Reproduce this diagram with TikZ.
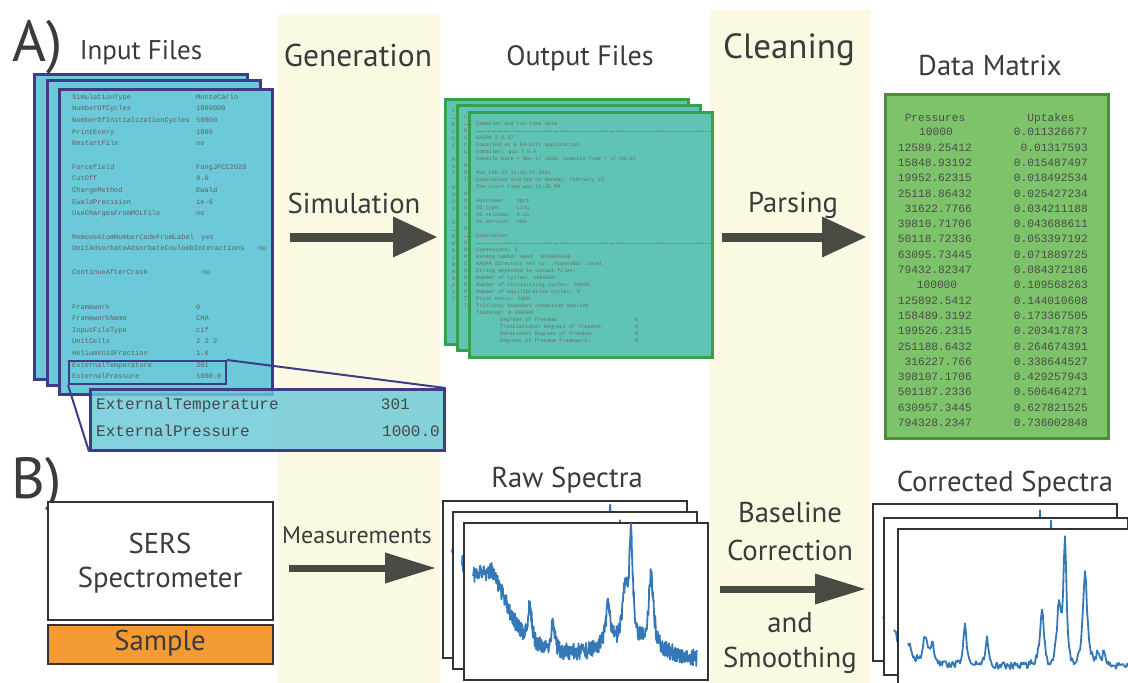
\documentclass[tikz,border=0pt]{standalone}
\usepackage{fontspec}
\setmainfont{PT Sans}
\newfontfamily\mono{Liberation Mono}
\usetikzlibrary{arrows.meta}

\definecolor{stripbg}{HTML}{FCF9E3}
\definecolor{inFill}{HTML}{6BC9D9}
\definecolor{inLine}{HTML}{3F3B86}
\definecolor{outFill}{HTML}{60C4B5}
\definecolor{outLine}{HTML}{36A04C}
\definecolor{dmFill}{HTML}{7CC36A}
\definecolor{dmLine}{HTML}{4F8B3E}
\definecolor{arrowGray}{HTML}{4A4A45}
\definecolor{txt}{HTML}{3B3B3B}
\definecolor{specBlue}{HTML}{3478B8}
\definecolor{sampleOrange}{HTML}{F39A33}
\definecolor{frameGray}{HTML}{333333}

\tikzset{
  title/.style={font=\fontsize{28.7}{32}\selectfont, text=txt, inner sep=0pt},
  bigletter/.style={font=\fontsize{58}{60}\selectfont, text=txt, inner sep=0pt},
  insheet/.style={draw=inLine, line width=2.5pt, fill=inFill, anchor=north west,
    minimum width=213pt, minimum height=305pt, inner sep=0pt},
  intxt/.style={font=\mono\fontsize{7}{8}\selectfont, text=black!62, anchor=base west, inner sep=0pt},
  outsheet/.style={draw=outLine, line width=2.5pt, fill=outFill, anchor=north west,
    minimum width=243pt, minimum height=245pt, inner sep=0pt},
  outtxt/.style={font=\mono\fontsize{5.2}{6}\selectfont, text=black!58, anchor=base west, inner sep=0pt},
  outrule/.style={black!50, line width=0.5pt, dash pattern=on 2pt off 1.1pt},
  dmtxt/.style={font=\mono\fontsize{11.2}{12}\selectfont, text=black!70, inner sep=0pt},
  zoomtxt/.style={font=\mono\fontsize{16}{18}\selectfont, text=black!72, inner sep=0pt},
  bigarrow/.style={draw=arrowGray, line width=9pt,
    -{Triangle[length=44pt,width=41pt,line width=0pt]}},
  midarrow/.style={draw=arrowGray, line width=7pt,
    -{Triangle[length=50pt,width=31pt,line width=0pt]}},
  specframe/.style={draw=frameGray, line width=2pt, fill=white, anchor=north west,
    minimum width=244pt, minimum height=157pt, inner sep=0pt},
  specline/.style={draw=specBlue, line width=1.8pt, line join=round},
  declare function={
    lor(\x,\c,\w)=1/(1+(min(abs(\x-\c),60)/\w)^2);
    rawy(\x)=136 - 80/(1+((\x-10)/38)^4) - 12*lor(\x,165,35)
      + 4*lor(\x,235,15) - 8*lor(\x,28,4)
      - 39*lor(\x,67,2) - 30*lor(\x,90,2)
      - 40*lor(\x,145,3) - 48*lor(\x,162,3)
      - 104*lor(\x,168,2.2) - 72*lor(\x,188,3) + 8.5*rand;
    cory(\x)=139 - 22*lor(\x,11,5) - 28*lor(\x,28,2.5) - 20*lor(\x,35,2.5)
      - 41*lor(\x,68,1.8) - 30*lor(\x,90,1.8)
      - 56*lor(\x,145,2.5) - 57*lor(\x,162,2.5)
      - 125*lor(\x,168,1.8) - 95*lor(\x,188,2.5)
      - 12*lor(\x,201,1.5) - 15*lor(\x,207,1.5)
      + 9*lor(\x,152,4) + 9*lor(\x,176,4) + 3.5*rand;
  }
}

% text lines of a simulation output file, relative to the sheet corner
\newcommand\outlines[1]{%
  \node[outtxt] (#1-0) at (8,14.5) {Compiler and run-time data};
  \draw[outrule] (8,20) -- (241,20);
  \node[outtxt] (#1-2) at (8,28.5) {RASPA 2.0.37};
  \node[outtxt] (#1-3) at (8,35.5) {Compiled as a 64-bits application};
  \node[outtxt] (#1-4) at (8,42.5) {Compiler: gcc 7.5.0};
  \node[outtxt] (#1-5) at (8,49.5) {Compile Date = Nov 17 2020, Compile Time = 17:09:33};
  \node[outtxt] (#1-7) at (8,63.5) {Mon Feb 22 12:35:07 2021};
  \node[outtxt] (#1-8) at (8,70.5) {Simulation started on Monday, February 22.};
  \node[outtxt] (#1-9) at (8,77.5) {The start time was 12:35 PM.};
  \node[outtxt] (#1-11) at (8,91.5) {Hostname:\ \ \ \ hpc1};
  \node[outtxt] (#1-12) at (8,98.5) {OS type:\ \ \ \ \ Linu};
  \node[outtxt] (#1-13) at (8,105.5) {OS release:\ \ 4.15};
  \node[outtxt] (#1-14) at (8,112.5) {OS version:\ \ \#86-};
  \node[outtxt] (#1-16) at (8,126.5) {Simulation};
  \draw[outrule] (8,132) -- (241,132);
  \node[outtxt] (#1-18) at (8,140.5) {Dimensions: 3};
  \node[outtxt] (#1-19) at (8,147.5) {Random number seed: 1614026106};
  \node[outtxt] (#1-20) at (8,154.5) {RASPA directory set to: /home/dda/.local};
  \node[outtxt] (#1-21) at (8,161.5) {String appended to output-files:};
  \node[outtxt] (#1-22) at (8,168.5) {Number of cycles: 1000000};
  \node[outtxt] (#1-23) at (8,175.5) {Number of initializing cycles: 50000};
  \node[outtxt] (#1-24) at (8,182.5) {Number of equilibration cycles: 0};
  \node[outtxt] (#1-25) at (8,189.5) {Print every: 1000};
  \node[outtxt] (#1-26) at (8,196.5) {Triclinic boundary condition applied};
  \node[outtxt] (#1-27) at (8,203.5) {Timestep: 0.000500};
  \node[outtxt] (#1-28) at (32,210.5) {Degrees of freedom:};
  \node[outtxt] (#1-29) at (32,217.5) {Translational Degrees of freedom:};
  \node[outtxt] (#1-30) at (32,224.5) {Rotational Degrees of freedom:};
  \node[outtxt] (#1-31) at (32,231.5) {Degrees of freedom Framework:};
  \foreach \j/\yy in {28/210.5,29/217.5,30/224.5,31/231.5}
    \node[outtxt] (#1-v\j) at (167,\yy) {0};
}
% the same file seen under another sheet: only its first column shows
\newcommand\outedge[1]{%
  \draw[outrule] (8,20) -- (13,20);
  \draw[outrule] (8,132) -- (13,132);
  \foreach \j/\yy/\c in {0/14.5/C, 2/28.5/R, 3/35.5/C, 4/42.5/C, 5/49.5/C,
      7/63.5/M, 8/70.5/S, 9/77.5/T, 11/91.5/H, 12/98.5/O, 13/105.5/O, 14/112.5/O,
      16/126.5/S, 18/140.5/D, 19/147.5/R, 20/154.5/R, 21/161.5/S, 22/168.5/N,
      23/175.5/N, 24/182.5/N, 25/189.5/P, 26/196.5/T, 27/203.5/T}
    \node[outtxt] (#1-\j) at (8,\yy) {\c};
}

\begin{document}
\begin{tikzpicture}[x=1pt, y=-1pt]
  \clip (0,0) rectangle (1128,683);
  \fill[white] (0,0) rectangle (1128,683);

  % process columns
  \fill[stripbg] (278,14) rectangle (440,683);
  \fill[stripbg] (710,10) rectangle (870,683);

  % ---------------- A) ----------------
  \node[bigletter] (labA) at (38,47) {A)};
  \node[title, font=\fontsize{27}{30}\selectfont] (tIn) at (141,53) {Input Files};
  \node[title, font=\fontsize{31.5}{34}\selectfont] (tGen) at (358,55) {Generation};
  \node[title, font=\fontsize{28}{30}\selectfont] (tOut) at (580,58) {Output Files};
  \node[title, font=\fontsize{35}{38}\selectfont] (tClean) at (789,50) {Cleaning};
  \node[title] (tDM) at (990,66) {Data Matrix};

  % input files
  \node[insheet] (in1) at (33,73) {};
  \node[insheet] (in2) at (46,79) {};
  \node[insheet] (in3) at (58,88) {};
  \foreach \i/\k/\v/\vx in {
     0/SimulationType/MonteCarlo/196,
     1/NumberOfCycles/1000000/196,
     2/NumberOfInitializationCycles/50000/196,
     3/PrintEvery/1000/196,
     4/RestartFile/no/196,
     6/Forcefield/FangJPCC2020/196,
     7/CutOff/9.0/196,
     8/ChargeMethod/Ewald/196,
     9/EwaldPrecision/1e-6/196,
     10/UseChargesFromMOLFile/no/196,
     12/RemoveAtomNumberCodeFromLabel/yes/201,
     13/OmitAdsorbateAdsorbateCoulombInteractions/no/258,
     15/ContinueAfterCrash/no/202,
     18/Framework/0/196,
     19/FrameworkName/CHA/196,
     20/InputFileType/cif/196,
     21/UnitCells/2 2 2/196,
     22/HeliumVoidFraction/1.0/196,
     23/ExternalTemperature/301/196,
     24/ExternalPressure/1000.0/196} {
    \node[intxt] (ik\i) at (72,99.3+11.65*\i) {\k};
    \node[intxt] (iv\i) at (\vx,99.3+11.65*\i) {\v};
  }

  % magnified excerpt
  \node[draw=inLine, line width=2pt, anchor=north west, minimum width=157pt,
        minimum height=23pt, inner sep=0pt] (zsmall) at (68,360) {};
  \node[draw=inLine, line width=2.5pt, fill=inFill, fill opacity=0.82, anchor=north west,
        minimum width=354pt, minimum height=61pt, inner sep=0pt] (zbig) at (89,388) {};
  \node[zoomtxt, anchor=base west] (zk1) at (96,409) {ExternalTemperature};
  \node[zoomtxt, anchor=base east] (zv1) at (410,409) {301};
  \node[zoomtxt, anchor=base west] (zk2) at (96,436) {ExternalPressure};
  \node[zoomtxt, anchor=base east] (zv2) at (440,436) {1000.0};
  \draw[inLine, line width=2pt] (zsmall.north east) -- (zbig.north east);
  \draw[inLine, line width=2pt] (zsmall.south west) -- (zbig.south west);

  % simulation step
  \node[title] (tSim) at (354,203) {Simulation};
  \coordinate (simA) at (290,237);
  \coordinate (simB) at (437,237);
  \draw[bigarrow] (simA) -- (simB);

  % output files
  \node[outsheet] (out1) at (444,98) {};
  \begin{scope}[shift={(444,98)}] \outedge{oa} \end{scope}
  \node[outsheet] (out2) at (456,104) {};
  \begin{scope}[shift={(456,104)}] \outedge{ob} \end{scope}
  \node[outsheet] (out3) at (468,111) {};
  \begin{scope}[shift={(468,111)}] \outlines{oc} \end{scope}

  % parsing step
  \node[title] (tPar) at (793,205) {Parsing};
  \coordinate (parA) at (722,237);
  \coordinate (parB) at (866,237);
  \draw[bigarrow] (parA) -- (parB);

  % data matrix
  \node[draw=dmLine, line width=2.5pt, fill=dmFill, anchor=north west,
        minimum width=223pt, minimum height=344pt, inner sep=0pt] (dm) at (884,93) {};
  \node[dmtxt, anchor=base] (hP) at (935,121) {Pressures};
  \node[dmtxt, anchor=base] (hU) at (1051,121) {Uptakes};
  \foreach \k/\p/\u/\pa/\px in {
     0/10000/0.011326677/base/936,
     1/12589.25412/0.01317593/base east/972,
     2/15848.93192/0.015487497/base east/972,
     3/19952.62315/0.018492534/base east/972,
     4/25118.86432/0.025427234/base east/972,
     5/31622.7766/0.034211188/base east/972,
     6/39810.71706/0.043688611/base east/972,
     7/50118.72336/0.053397192/base east/972,
     8/63095.73445/0.071889725/base east/972,
     9/79432.82347/0.084372186/base east/972,
     10/100000/0.109568263/base/937,
     11/125892.5412/0.144010608/base east/972,
     12/158489.3192/0.173367505/base east/972,
     13/199526.2315/0.203417873/base east/972,
     14/251188.6432/0.264674391/base east/972,
     15/316227.766/0.338644527/base east/972,
     16/398107.1706/0.429257943/base east/972,
     17/501187.2336/0.506464271/base east/972,
     18/630957.3445/0.627821525/base east/972,
     19/794328.2347/0.736002848/base east/972} {
    \node[dmtxt, anchor=\pa] (dp\k) at (\px,135.8+15.3*\k) {\p};
    \node[dmtxt, anchor=base east] (du\k) at (1088,135.8+15.3*\k) {\u};
  }

  % ---------------- B) ----------------
  \node[bigletter] (labB) at (37,484) {B)};

  \node[draw=frameGray, line width=2pt, fill=white, anchor=north west,
        minimum width=225pt, minimum height=118pt, inner sep=0pt] (sers) at (47,501) {};
  \node[title] (sersA) at (160,543) {SERS};
  \node[title] (sersB) at (160,580) {Spectrometer};
  \node[draw=frameGray, line width=2pt, fill=sampleOrange, anchor=north west,
        minimum width=225pt, minimum height=39pt, inner sep=0pt] (samp) at (47,624) {};
  \node[title] (sampT) at (160,643) {Sample};

  % measurement step
  \node[title, font=\fontsize{24}{26}\selectfont] (tMeas) at (357,535) {Measurements};
  \coordinate (meaA) at (289,568);
  \coordinate (meaB) at (435,568);
  \draw[midarrow] (meaA) -- (meaB);

  % raw spectra
  \node[title] (tRaw) at (567,480) {Raw Spectra};
  \pgfmathsetseed{11}
  \foreach \n/\fx/\fy in {1/442/500, 2/452/511, 3/463/522} {
    \node[specframe] (raw\n) at (\fx,\fy) {};
    \begin{scope}[shift={(\fx,\fy)}]
      \clip (1,1) rectangle (243,156);
      \draw[specline] plot[domain=10:234, samples=600] (\x,{rawy(\x)});
    \end{scope}
  }

  % baseline correction step
  \node[title] (tBase1) at (790,513) {Baseline};
  \node[title] (tBase2) at (790,550) {Correction};
  \node[title] (tBase3) at (790,623) {and};
  \node[title] (tBase4) at (790,660) {Smoothing};
  \coordinate (corA) at (720,589);
  \coordinate (corB) at (865,589);
  \draw[midarrow] (corA) -- (corB);

  % corrected spectra
  \node[title] (tCor) at (1005,484) {Corrected Spectra};
  \pgfmathsetseed{5}
  \foreach \n/\fx/\fy in {1/872/503, 2/883/517, 3/897/528} {
    \node[specframe] (cor\n) at (\fx,\fy) {};
    \begin{scope}[shift={(\fx,\fy)}]
      \clip (1,1) rectangle (243,156);
      \draw[specline] plot[domain=11:238, samples=228] (\x,{cory(\x)});
    \end{scope}
  }
\end{tikzpicture}
\end{document}
